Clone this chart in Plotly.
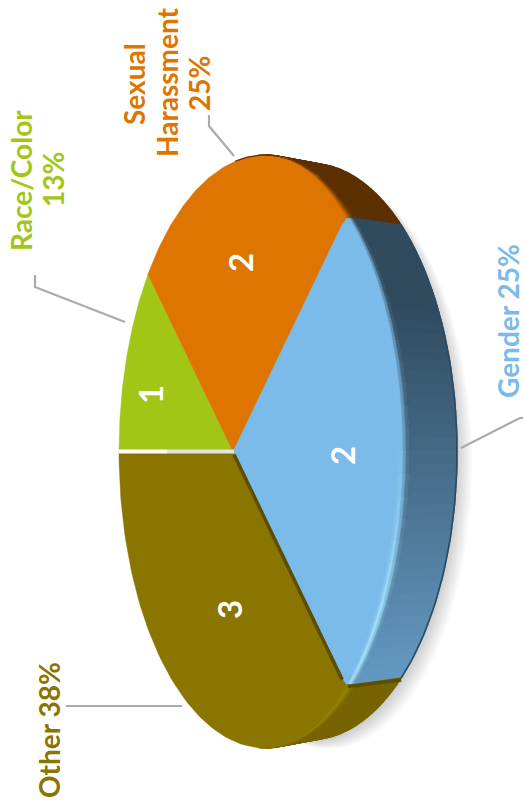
import numpy as np
import plotly.graph_objects as go

categories = ["Race/Color", "Sexual<br>Harassment", "Gender", "Other"]
values = [1, 2, 2, 3]
percents = ["13%", "25%", "25%", "38%"]
face_colors = ["#A2C616", "#DE7500", "#7ABBE9", "#8A7500"]

W, H = 525, 807
CX, CY, RX, RY = 265.0, 451.5, 146.0, 296.5
BCX, BRY = 311.0, 288.0
HUB = (233.0 - CX) / RX
RIM_TUCK = np.radians(2.5)   # rounded shoulder of the raised slice
INNER = 132.0
WALL_START = np.radians(80)  # the side wall is hidden left of the disk's top and bottom
BEVEL_START = np.radians(77)


def proj(theta):
    u, v = np.cos(theta), np.sin(theta)
    d = 1 + HUB * u
    return (u + HUB) / d, np.sqrt(1 - HUB ** 2) * v / d


def front(a, rx=RX):
    u, v = proj(a)
    return CX + rx * u, CY - RY * v


def back(a):
    u, v = proj(a)
    return BCX + RX * u, CY - BRY * v


def band(a, r):
    u, v = proj(a)
    return CX + np.where(u > 0, r, RX) * u, CY - RY * v


def rgb(h):
    return np.array([int(h[i:i + 2], 16) for i in (1, 3, 5)], float)


def mix(a, b, t):
    c = rgb(a) * (1 - t) + rgb(b) * t
    return "#%02x%02x%02x" % tuple(int(round(x)) for x in c)


fig = go.Figure()


def poly(xs, ys, color, seam=0.6):
    fig.add_trace(go.Scatter(x=list(xs), y=list(ys), mode="lines", fill="toself",
                             fillcolor=color, line=dict(color=color, width=seam),
                             hoverinfo="skip", showlegend=False))


def line(xs, ys, color, width):
    fig.add_trace(go.Scatter(x=list(xs), y=list(ys), mode="lines",
                             line=dict(color=color, width=width),
                             hoverinfo="skip", showlegend=False))


total = sum(values)
bounds = [np.pi - 2 * np.pi * c / total for c in np.concatenate([[0], np.cumsum(values)])]
rim = [(bounds[0], bounds[1]),
       (bounds[1], bounds[2] - RIM_TUCK),
       (bounds[2] - RIM_TUCK, bounds[3] + RIM_TUCK),
       (bounds[3] + RIM_TUCK, bounds[4])]

# soft shadow
t = np.linspace(0, 2 * np.pi, 160)
for k in range(12):
    off = 2.0 + k * 1.3
    fig.add_trace(go.Scatter(
        x=BCX + 2 + off + (RX - 3) * np.cos(t), y=CY + 2 + off * 0.6 + (BRY - 2) * np.sin(t),
        mode="lines", fill="toself", fillcolor="rgba(0,0,0,0.014)",
        line=dict(width=0), hoverinfo="skip", showlegend=False))


def side_color(i, a):
    y = front(a)[1]
    if i == 1:
        return "#5C3000"
    if i == 2:
        s = np.clip((y - 300) / 380, 0, 1)
        return mix("#304A5E", "#6298C0", s)
    return "#766400"


# side wall
wall = [None, (WALL_START, rim[1][1]), rim[2], (rim[3][0], -WALL_START)]
for i in (1, 2, 3):
    a0, a1 = wall[i]
    seg = np.linspace(a0, a1, 41)
    for p, q in zip(seg[:-1], seg[1:]):
        f0, f1, b0, b1 = front(p), front(q), back(p), back(q)
        poly([f0[0], f1[0], b1[0], b0[0], f0[0]], [f0[1], f1[1], b1[1], b0[1], f0[1]],
             side_color(i, (p + q) / 2), seam=1.4)

# outer dark edge of the blue wall
seg = np.linspace(rim[2][0], rim[2][1], 60)
bx, by = back(seg)
line(bx, by, "#2C4A62", 1.6)

# faces
hx = CX + HUB * RX
for i in (0, 1, 3):
    seg = np.linspace(rim[i][0], rim[i][1], 90)
    fx, fy = front(seg)
    poly(np.r_[hx, fx, hx], np.r_[CY, fy, CY], face_colors[i], seam=0.4)

# bevel bands along the rim
BANDS = [INNER, 135.0, 138.0, 141.0, 144.0, 147.0]
bevel = [None, (BEVEL_START, rim[1][1]), rim[2], (rim[3][0], -BEVEL_START)]
for i in (1, 2, 3):
    a0, a1 = bevel[i]
    seg = np.linspace(a0, a1, 25)
    for p, q in zip(seg[:-1], seg[1:]):
        m = (p + q) / 2
        _, vm = proj(m)
        side = side_color(i, m)
        for b, (r0, r1) in enumerate(zip(BANDS[:-1], BANDS[1:])):
            tt = (b + 0.5) / (len(BANDS) - 1)
            if i == 1:
                col = mix(face_colors[1], side, min(1, tt * 1.3))
            elif i == 2:
                h = np.clip(-vm / 0.55, 0, 1)
                hi = mix(face_colors[2], "#A6E4FF", h)
                col = mix(face_colors[2], hi, tt / 0.35) if tt < 0.35 else mix(hi, side, min(1, (tt - 0.35) / 0.4))
            else:
                col = mix(face_colors[3], "#9A8500", tt / 0.4) if tt < 0.4 else mix("#9A8500", side, min(1, (tt - 0.4) / 0.6))
            x0, y0 = band(p, r0); x1, y1 = band(q, r0)
            x2, y2 = band(q, r1); x3, y3 = band(p, r1)
            poly([x0, x1, x2, x3, x0], [y0, y1, y2, y3, y0], col, seam=0.5)

# raised blue face: spokes follow the slice boundaries, shoulders are rounded off
seg = np.linspace(rim[2][0], rim[2][1], 90)
fx, fy = band(seg, INNER)
tip0, tip1 = front(bounds[2]), front(bounds[3])
S = 0.93
poly(np.r_[hx, hx + S * (tip0[0] - hx), fx, hx + S * (tip1[0] - hx), hx],
     np.r_[CY, CY + S * (tip0[1] - CY), fy, CY + S * (tip1[1] - CY), CY], face_colors[2], seam=0.4)

# dark lip where the blue slice sits over the olive one
line([hx + 1, hx + S * (tip1[0] - hx) + 1], [CY + 3, CY + S * (tip1[1] - CY) + 3], "#5C4E00", 3.5)
e0, e1 = band(rim[2][1], INNER + 2), back(rim[2][1])
line([float(e0[0]), e1[0]], [e0[1] + 2, e1[1] + 2], "#5C4E00", 3.5)
# dark rim line on top of the orange slice
seg = np.linspace(np.radians(89), np.radians(72), 20)
rx_, ry_ = front(seg)
line(rx_, ry_, "#5C3000", 1.2)

# white gap between green and olive
sx = front(bounds[0])[0]
line([sx, sx + 48], [CY, CY], "#FFFFFF", 4)
line([sx + 48, hx + 1], [CY, CY], "#E4E4E4", 4)

# leader lines
LEADER = "#ABABAB"
line([35, 35, 125], [275, 287, 322], LEADER, 2.2)
line([209, 209, 234], [115, 126, 156], LEADER, 2.2)
line([523, 520, 461], [418, 418, 448], LEADER, 2.2)
line([66, 182], [706, 706], LEADER, 2.2)

FONT = "Lato"
outer_size = 28
line_pos = [[(21, 181), (53, 180)],
            [(134, 84), (167, 82), (199, 84)],
            [(508, 321)],
            [(49, 730)]]
annotations = []
for c, p, col, pos in zip(categories, percents, face_colors, line_pos):
    parts = c.split("<br>") + [p] if len(pos) > 1 else [c + " " + p]
    for txt, xy in zip(parts, pos):
        annotations.append(dict(x=xy[0], y=xy[1], text="<b>%s</b>" % txt,
                                showarrow=False, textangle=-90, align="center",
                                font=dict(family=FONT, size=outer_size, color=col)))
inner_pos = [(150, 395), (240, 263), (342, 456), (229, 610)]
for v, pos in zip(values, inner_pos):
    annotations.append(dict(x=pos[0], y=pos[1], text="<b>%d</b>" % v, showarrow=False,
                            textangle=-90, font=dict(family=FONT, size=33, color="#FFFFFF")))

fig.update_layout(
    width=W, height=H, margin=dict(l=0, r=0, t=0, b=0),
    paper_bgcolor="#FFFFFF", plot_bgcolor="#FFFFFF", showlegend=False,
    xaxis=dict(range=[0, W], visible=False, fixedrange=True),
    yaxis=dict(range=[H, 0], visible=False, fixedrange=True),
    annotations=annotations,
)
fig.write_html("out.html", config=dict(displayModeBar=False),
               post_script="document.body.style.margin='0';document.body.style.overflow='hidden';")
